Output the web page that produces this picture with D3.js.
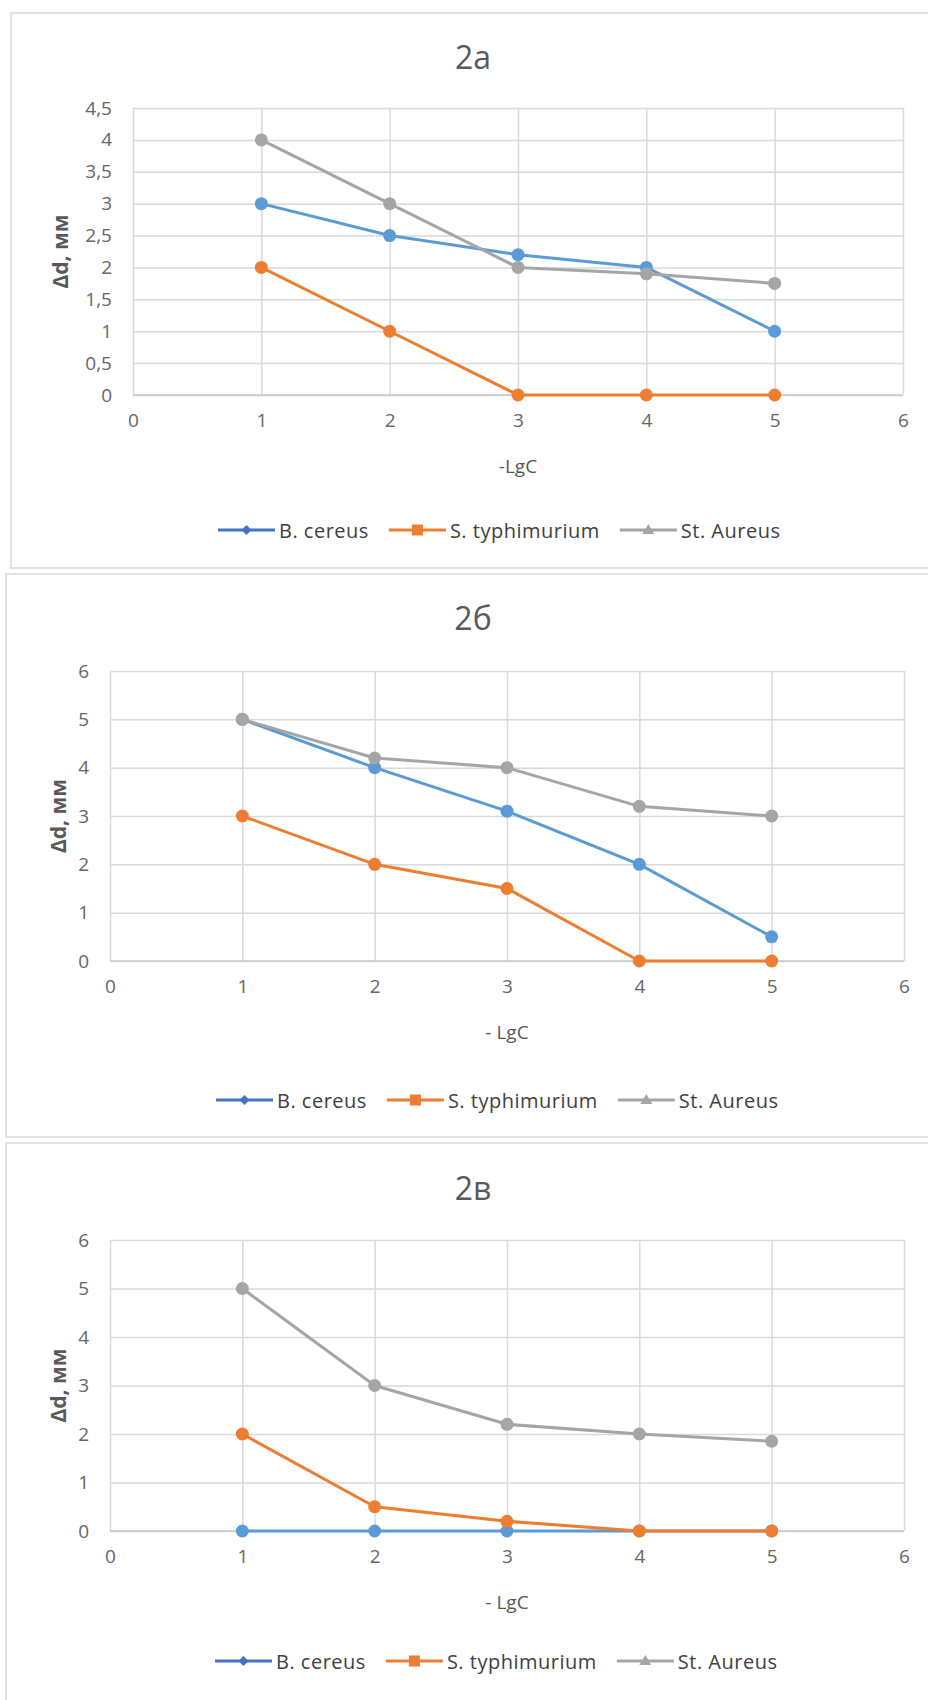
<!DOCTYPE html>
<html>
<head>
<meta charset="utf-8">
<script src="https://cdn.jsdelivr.net/npm/d3@7"></script>
<style>
  html, body { margin: 0; padding: 0; background: #fff; }
  svg { display: block; font-family: "Open Sans", "Noto Sans", sans-serif; }
</style>
</head>
<body>
<svg id="chart" width="928" height="1700"></svg>
<script>
// ---- Data ----
const xValues = [1, 2, 3, 4, 5];
const seriesNames = ["B. cereus", "S. typhimurium", "St. Aureus"];

const titles = ["2а", "2б", "2в"];
const xTitles = ["-LgC", "- LgC", "- LgC"];
const yTitle = "Δd, мм";

// Panel 2a
const bCereusA = [3, 2.5, 2.2, 2.0, 1.0];
const sTyphA   = [2, 1, 0, 0, 0];
const stAurA   = [4, 3, 2.0, 1.9, 1.75];
// Panel 2б
const bCereusB = [5, 4, 3.1, 2, 0.5];
const sTyphB   = [3, 2, 1.5, 0, 0];
const stAurB   = [5, 4.2, 4, 3.2, 3];
// Panel 2в
const bCereusC = [0, 0, 0, 0, 0];
const sTyphC   = [2, 0.5, 0.2, 0, 0];
const stAurC   = [5, 3, 2.2, 2, 1.85];

const xTicks = [0, 1, 2, 3, 4, 5, 6];
const yTicksA = [0, 0.5, 1, 1.5, 2, 2.5, 3, 3.5, 4, 4.5];
const yTicksBC = [0, 1, 2, 3, 4, 5, 6];

// ---- Styles ----
const lineColors = ["#5b9bd5", "#ed7d31", "#a5a5a5"];
const legendColors = ["#4472c4", "#ed7d31", "#a5a5a5"];
const legendMarkers = ["diamond", "square", "triangle"];

// ---- Layout ----
const panels = [
  { frame: {x: 11, y: 13, w: 940, h: 555}, titleY: 56, left: 133, right: 903, top: 108, bottom: 395,
    yMax: 4.5, yTicks: yTicksA, yTitleX: 60, legendY: 530, legendX: 218,
    series: [bCereusA, sTyphA, stAurA] },
  { frame: {x: 6, y: 574, w: 940, h: 563}, titleY: 617, left: 110, right: 904, top: 671, bottom: 961,
    yMax: 6, yTicks: yTicksBC, yTitleX: 58, legendY: 1100, legendX: 216,
    series: [bCereusB, sTyphB, stAurB] },
  { frame: {x: 6, y: 1143, w: 940, h: 600}, titleY: 1187, left: 110, right: 904, top: 1240, bottom: 1531,
    yMax: 6, yTicks: yTicksBC, yTitleX: 58, legendY: 1661, legendX: 215,
    series: [bCereusC, sTyphC, stAurC] }
];

const svg = d3.select("#chart");
const fmt = v => String(v).replace(".", ",");

panels.forEach((p, pi) => {
  const g = svg.append("g");
  // frame
  g.append("rect")
    .attr("x", p.frame.x).attr("y", p.frame.y)
    .attr("width", p.frame.w).attr("height", p.frame.h)
    .attr("fill", "#fff").attr("stroke", "#d9d9d9").attr("stroke-width", 1.5);

  // title
  g.append("text")
    .attr("x", 473).attr("y", p.titleY)
    .attr("text-anchor", "middle").attr("dominant-baseline", "central")
    .attr("font-size", 32).attr("fill", "#595959")
    .text(titles[pi]);

  const x = d3.scaleLinear().domain([0, 6]).range([p.left, p.right]);
  const y = d3.scaleLinear().domain([0, p.yMax]).range([p.bottom, p.top]);

  // horizontal gridlines + y tick labels
  const yAxis = g.append("g")
    .attr("transform", `translate(${p.left},0)`)
    .call(d3.axisLeft(y).tickValues(p.yTicks).tickFormat(fmt)
      .tickSize(-(p.right - p.left)).tickPadding(21));
  yAxis.select(".domain").remove();
  yAxis.selectAll(".tick line").attr("stroke", "#d9d9d9").attr("stroke-width", 1.5);
  yAxis.selectAll(".tick text").attr("font-size", 19).attr("fill", "#666")
    .attr("font-family", "'Open Sans', sans-serif");

  // vertical gridlines + x tick labels
  const xAxis = g.append("g")
    .attr("transform", `translate(0,${p.bottom})`)
    .call(d3.axisBottom(x).tickValues(xTicks).tickFormat(d3.format("d"))
      .tickSize(-(p.bottom - p.top)).tickPadding(19));
  xAxis.select(".domain").remove();
  xAxis.selectAll(".tick line").attr("stroke", "#d9d9d9").attr("stroke-width", 1.5);
  xAxis.selectAll(".tick text").attr("font-size", 19).attr("fill", "#666")
    .attr("font-family", "'Open Sans', sans-serif");

  // x-axis baseline slightly darker
  g.append("line")
    .attr("x1", p.left).attr("x2", p.right)
    .attr("y1", y(0)).attr("y2", y(0))
    .attr("stroke", "#c8c8c8").attr("stroke-width", 1.5);

  // axis titles
  g.append("text")
    .attr("x", (p.left + p.right) / 2).attr("y", p.bottom + 71)
    .attr("text-anchor", "middle").attr("dominant-baseline", "central")
    .attr("font-size", 19).attr("fill", "#595959")
    .text(xTitles[pi]);

  g.append("text")
    .attr("transform", `translate(${p.yTitleX},${(p.top + p.bottom) / 2}) rotate(-90)`)
    .attr("text-anchor", "middle").attr("dominant-baseline", "central")
    .attr("font-size", 21).attr("font-weight", "bold").attr("fill", "#595959")
    .text(yTitle);

  // series
  const line = d3.line().x((d, i) => x(xValues[i])).y(d => y(d));
  p.series.forEach((vals, si) => {
    const sg = g.append("g");
    sg.append("path")
      .datum(vals)
      .attr("d", line)
      .attr("fill", "none")
      .attr("stroke", lineColors[si])
      .attr("stroke-width", 3)
      .attr("stroke-linejoin", "round");
    sg.selectAll("circle")
      .data(vals)
      .join("circle")
      .attr("cx", (d, i) => x(xValues[i]))
      .attr("cy", d => y(d))
      .attr("r", 6.5)
      .attr("fill", lineColors[si]);
  });

  // legend
  let lx = p.legendX;
  const ly = p.legendY;
  const lineLen = 57;
  seriesNames.forEach((name, si) => {
    const lg = g.append("g");
    lg.append("line")
      .attr("x1", lx).attr("x2", lx + lineLen)
      .attr("y1", ly).attr("y2", ly)
      .attr("stroke", legendColors[si]).attr("stroke-width", 3);
    const cx = lx + lineLen / 2;
    const m = legendMarkers[si];
    if (m === "diamond") {
      lg.append("path")
        .attr("d", `M${cx},${ly - 5} L${cx + 5},${ly} L${cx},${ly + 5} L${cx - 5},${ly} Z`)
        .attr("fill", legendColors[si]);
    } else if (m === "square") {
      lg.append("rect")
        .attr("x", cx - 5.5).attr("y", ly - 5.5).attr("width", 11).attr("height", 11)
        .attr("fill", legendColors[si]);
    } else {
      lg.append("path")
        .attr("d", `M${cx},${ly - 6} L${cx + 6},${ly + 4} L${cx - 6},${ly + 4} Z`)
        .attr("fill", legendColors[si]);
    }
    const t = lg.append("text")
      .attr("x", lx + lineLen + 4).attr("y", ly)
      .attr("dominant-baseline", "central")
      .attr("font-size", 20).attr("letter-spacing", "0.5px")
      .attr("fill", "#404040")
      .text(name);
    const w = t.node().getComputedTextLength();
    lx = lx + lineLen + 4 + w + 20;
  });
});
</script>
</body>
</html>
